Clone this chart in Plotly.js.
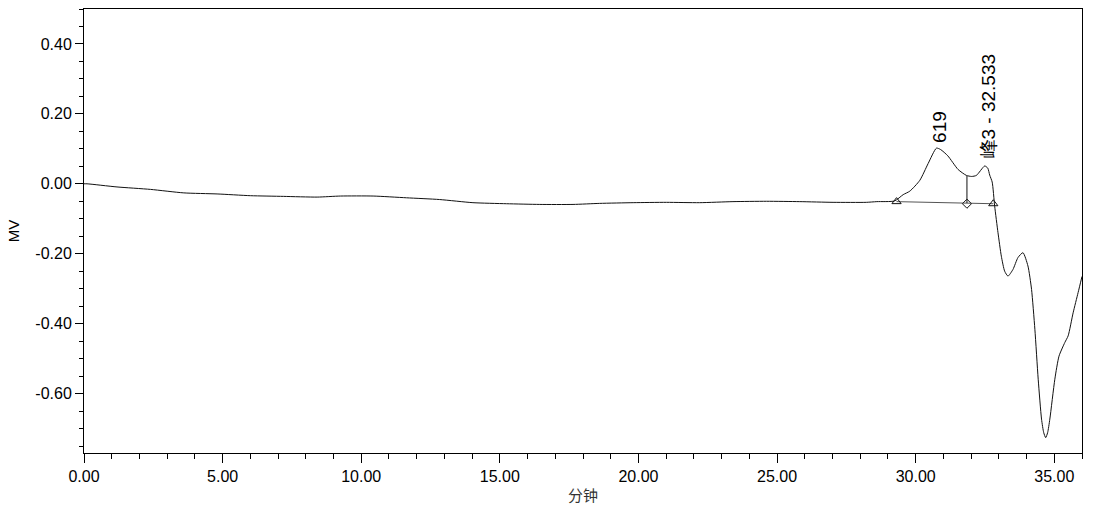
<!DOCTYPE html>
<html>
<head>
<meta charset="utf-8">
<script src="https://cdn.plot.ly/plotly-3.0.1.min.js"></script>
<style>html,body{margin:0;padding:0;background:#fff;}#chart{width:1119px;height:521px;}</style>
</head>
<body>
<div id="chart"></div>
<script>
// Chromatogram signal (time in minutes, signal in MV)
const time = [0.00, 0.11, 1.19, 2.40, 3.60, 4.80, 6.00, 7.20, 8.41, 9.25, 10.43, 11.63, 12.83, 14.03, 15.24, 16.44, 17.64, 18.60, 19.81, 21.01, 22.21, 23.41, 24.62, 25.82, 27.02, 28.22, 28.60, 29.24, 29.55, 29.79, 30.15, 30.45, 30.75, 30.90, 31.16, 31.53, 31.83, 32.02, 32.19, 32.49, 32.60, 32.67, 32.76, 32.85, 32.97, 33.09, 33.21, 33.33, 33.51, 33.69, 33.87, 34.05, 34.18, 34.30, 34.42, 34.54, 34.62, 34.69, 34.76, 34.84, 35.02, 35.17, 35.38, 35.50, 35.68, 35.86, 36.00];
const mv = [0.000, 0.000, -0.009, -0.016, -0.026, -0.029, -0.034, -0.036, -0.038, -0.035, -0.035, -0.040, -0.045, -0.054, -0.057, -0.059, -0.059, -0.056, -0.054, -0.053, -0.054, -0.051, -0.050, -0.051, -0.053, -0.053, -0.051, -0.049, -0.031, -0.021, 0.010, 0.058, 0.102, 0.098, 0.080, 0.041, 0.024, 0.021, 0.024, 0.051, 0.045, 0.025, 0.005, -0.064, -0.140, -0.207, -0.250, -0.264, -0.245, -0.211, -0.197, -0.235, -0.302, -0.416, -0.559, -0.673, -0.712, -0.726, -0.712, -0.673, -0.559, -0.493, -0.454, -0.435, -0.369, -0.311, -0.265];

// Integration baseline and peak markers
const baseX = [29.31, 32.80];
const baseY = [-0.051, -0.057];
const dropX = [31.85, 31.85];
const dropY = [0.023, -0.055];
const diamondX = [31.85];
const diamondY = [-0.057];

// Peak labels
const labelText = ["619", "峰3 - 32.533"];
const labelX = [30.88, 32.62];
const labelY = [0.163, 0.222];

const xTicks = [0, 5, 10, 15, 20, 25, 30, 35];
const xTickText = ["0.00", "5.00", "10.00", "15.00", "20.00", "25.00", "30.00", "35.00"];
const yTicks = [-0.6, -0.4, -0.2, 0, 0.2, 0.4];
const yTickText = ["-0.60", "-0.40", "-0.20", "0.00", "0.20", "0.40"];

const traces = [
  {x: time, y: mv, type: 'scatter', mode: 'lines', line: {color: '#111', width: 1, shape: 'spline', smoothing: 0.6}, hoverinfo: 'skip'},
  {x: baseX, y: baseY, type: 'scatter', mode: 'lines+markers', line: {color: '#555', width: 1},
   marker: {symbol: 'triangle-up-open', size: 8, color: '#111', line: {width: 1}}, hoverinfo: 'skip'},
  {x: dropX, y: dropY, type: 'scatter', mode: 'lines', line: {color: '#111', width: 1}, hoverinfo: 'skip'},
  {x: diamondX, y: diamondY, type: 'scatter', mode: 'markers',
   marker: {symbol: 'diamond-open', size: 7, color: '#111', line: {width: 1}}, hoverinfo: 'skip'}
];

const annotations = labelText.map((t, i) => ({
  x: labelX[i], y: labelY[i], xref: 'x', yref: 'y', text: t, showarrow: false,
  textangle: -90, xanchor: 'center', yanchor: 'middle',
  font: {family: 'Liberation Sans, Arial, sans-serif', size: 19, color: '#000'}
}));

const layout = {
  width: 1119, height: 521,
  margin: {l: 84, r: 37, t: 9, b: 68},
  paper_bgcolor: '#fff', plot_bgcolor: '#fff',
  showlegend: false,
  font: {family: 'Liberation Sans, Arial, sans-serif', size: 16, color: '#000'},
  xaxis: {
    range: [0, 36], tickvals: xTicks, ticktext: xTickText,
    ticks: 'outside', ticklen: 9, tickwidth: 1, tickcolor: '#000',
    showline: true, linecolor: '#000', linewidth: 1, mirror: true,
    showgrid: false, zeroline: false,
    minor: {dtick: 1, tick0: 0, ticks: 'outside', ticklen: 5, tickcolor: '#000', showgrid: false},
    title: {text: '分钟', font: {family: 'Noto Sans CJK SC, sans-serif', size: 15, color: '#333'}, standoff: 6}
  },
  yaxis: {
    range: [-0.77, 0.5], tickvals: yTicks, ticktext: yTickText,
    ticks: 'outside', ticklen: 8, tickwidth: 1, tickcolor: '#000',
    showline: true, linecolor: '#000', linewidth: 1, mirror: true,
    showgrid: false, zeroline: false,
    minor: {dtick: 0.05, tick0: 0, ticks: 'outside', ticklen: 4, tickcolor: '#000', showgrid: false},
    title: {text: 'MV', font: {family: 'Liberation Sans, Arial, sans-serif', size: 15, color: '#000'}, standoff: 12}
  },
  annotations: annotations
};

Plotly.newPlot('chart', traces, layout, {displayModeBar: false, staticPlot: true});
</script>
</body>
</html>
